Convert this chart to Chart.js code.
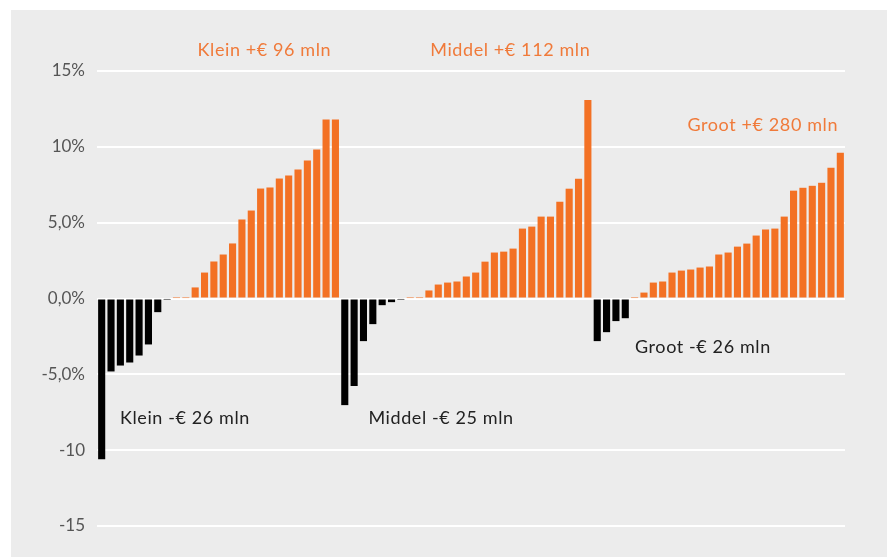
<!DOCTYPE html>
<html>
<head>
<meta charset="utf-8">
<script src="https://cdn.jsdelivr.net/npm/chart.js@4/dist/chart.umd.min.js"></script>
<style>
  html, body { margin: 0; padding: 0; background: #ffffff; }
  #panel { position: absolute; left: 11px; top: 10px; width: 876px; height: 547px; background: #ececec; }
  #wrap { position: absolute; left: 0; top: 0; width: 891px; height: 558px; }
</style>
</head>
<body>
<div id="panel"></div>
<div id="wrap"><canvas id="c" width="891" height="558"></canvas></div>
<script>
// Group: Klein (26 bars)
const kleinValues = [-10.6, -4.81, -4.42, -4.22, -3.76, -3.03, -0.90, -0.03, 0.03, 0.03,
  0.73, 1.71, 2.44, 2.90, 3.63, 5.21, 5.80, 7.25, 7.32, 7.91, 8.11, 8.50, 9.10, 9.82, 11.80, 11.80];
// Group: Middel (27 bars)
const middelValues = [-7.03, -5.77, -2.81, -1.69, -0.44, -0.24, -0.03, 0.03, 0.03,
  0.53, 0.92, 1.05, 1.12, 1.45, 1.71, 2.43, 3.03, 3.09, 3.29, 4.61, 4.74, 5.40, 5.40, 6.38, 7.24, 7.89, 13.09];
// Group: Groot (27 bars)
const grootValues = [-2.81, -2.22, -1.49, -1.30, 0.03,
  0.39, 1.05, 1.12, 1.71, 1.84, 1.91, 2.04, 2.11, 2.90, 3.03, 3.42, 3.62, 4.15, 4.55, 4.61, 5.40, 7.11, 7.30, 7.43, 7.63, 8.62, 9.61];

const yTickValues = [15, 10, 5, 0, -5, -10, -15];
const yTickLabels = ['15%', '10%', '5,0%', '0,0%', '-5,0%', '-10', '-15'];

// Annotation texts (position given as category index and value)
const annoTexts  = ['Klein +€ 96 mln', 'Middel +€ 112 mln', 'Groot +€ 280 mln', 'Klein -€ 26 mln', 'Middel -€ 25 mln', 'Groot -€ 26 mln'];
const annoIndex  = [17.4, 43.7, 70.7, 8.9, 36.3, 64.3];
const annoValue  = [16.35, 16.35, 11.4, -7.9, -7.9, -3.23];
const annoColors = ['#f07a3a', '#f07a3a', '#f07a3a', '#222222', '#222222', '#222222'];

const ORANGE = '#f37124';
const BLACK = '#000000';

const allValues = kleinValues.concat(middelValues, grootValues);
const labels = allValues.map((v, i) => String(i + 1));
const colors = allValues.map(v => v < 0 ? BLACK : ORANGE);

const annoPlugin = {
  id: 'anno',
  afterDatasetsDraw(chart) {
    const ctx = chart.ctx;
    const xs = chart.scales.x, ys = chart.scales.y;
    ctx.save();
    ctx.font = '18px Lato, "Open Sans", sans-serif';
    try { ctx.letterSpacing = '0.6px'; } catch (e) {}
    ctx.textAlign = 'center';
    ctx.textBaseline = 'middle';
    annoTexts.forEach((t, i) => {
      ctx.fillStyle = annoColors[i];
      ctx.fillText(t, xs.getPixelForValue(annoIndex[i]), ys.getPixelForValue(annoValue[i]));
    });
    ctx.restore();
  }
};

new Chart(document.getElementById('c'), {
  type: 'bar',
  data: {
    labels: labels,
    datasets: [{
      data: allValues,
      backgroundColor: colors,
      borderWidth: 0,
      barPercentage: 0.76,
      categoryPercentage: 1.0
    }]
  },
  options: {
    responsive: false,
    animation: false,
    devicePixelRatio: 1,
    layout: { padding: { left: 0, right: 46, top: 71, bottom: 32 } },
    plugins: { legend: { display: false }, tooltip: { enabled: false } },
    scales: {
      x: { display: false, offset: true },
      y: {
        min: -15, max: 15,
        afterFit(scale) { scale.width = 97; },
        afterBuildTicks(scale) { scale.ticks = yTickValues.map(v => ({ value: v })); },
        border: { display: false },
        grid: { color: '#ffffff', lineWidth: 2, drawTicks: false },
        ticks: {
          padding: 12,
          color: '#555555',
          font: { family: 'Lato, "Open Sans", sans-serif', size: 17 },
          callback: (v) => { const k = yTickValues.indexOf(v); return k >= 0 ? yTickLabels[k] : ''; }
        }
      }
    }
  },
  plugins: [annoPlugin]
});
</script>
</body>
</html>
